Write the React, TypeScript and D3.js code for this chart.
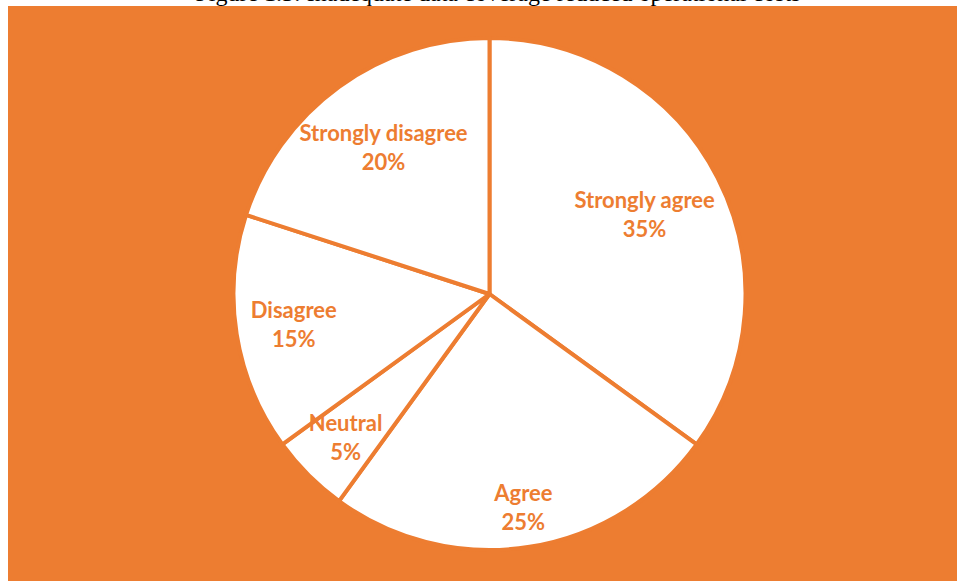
import React from "react";
import * as d3 from "d3";

const categories = ["Strongly agree", "Agree", "Neutral", "Disagree", "Strongly disagree"];
const values = [35, 25, 5, 15, 20];
const percentLabels = ["35%", "25%", "5%", "15%", "20%"];
const title = "Figure 1.3: Inadequate data coverage reduced operational costs";

const ORANGE = "#ED7D31";

export default function App() {
  const W = 957;
  const H = 581;
  const cx = 489.5;
  const cy = 294;
  const r = 256;

  const data = categories.map((c, i) => ({ name: c, value: values[i], pct: percentLabels[i] }));
  const pie = d3.pie<any>().value((d: any) => d.value).sort(null);
  const arcs = pie(data);
  const arc = d3.arc<any>().innerRadius(0).outerRadius(r);

  // per-slice label radius (fraction of r) to mimic reference placement
  const labelR = [0.68, 0.846, 0.795, 0.774, 0.704];

  return (
    <svg width={W} height={H} style={{ position: "absolute", left: 0, top: 0, background: "#fff" }}>
      <text x={498} y={0.5} textAnchor="middle" fontFamily="'Liberation Serif', 'Times New Roman', serif" fontSize={24} fill="#000">
        {title}
      </text>
      <rect x={8} y={6} width={W - 8} height={H - 6} fill={ORANGE} />
      <g transform={`translate(${cx},${cy})`}>
        {arcs.map((a, i) => (
          <path key={i} d={arc(a) || ""} fill="#fff" stroke={ORANGE} strokeWidth={4} strokeLinejoin="round" />
        ))}
        {arcs.map((a, i) => {
          const la = d3.arc<any>().innerRadius(r * labelR[i]).outerRadius(r * labelR[i]);
          const [x, y] = la.centroid(a);
          return (
            <text key={"t" + i} x={x} y={y} textAnchor="middle" fontFamily="Lato, 'Open Sans', sans-serif" fontWeight="bold" fontSize={22} fill={ORANGE}>
              <tspan x={x} dy={-7}>{a.data.name}</tspan>
              <tspan x={x} dy={29}>{a.data.pct}</tspan>
            </text>
          );
        })}
      </g>
    </svg>
  );
}
